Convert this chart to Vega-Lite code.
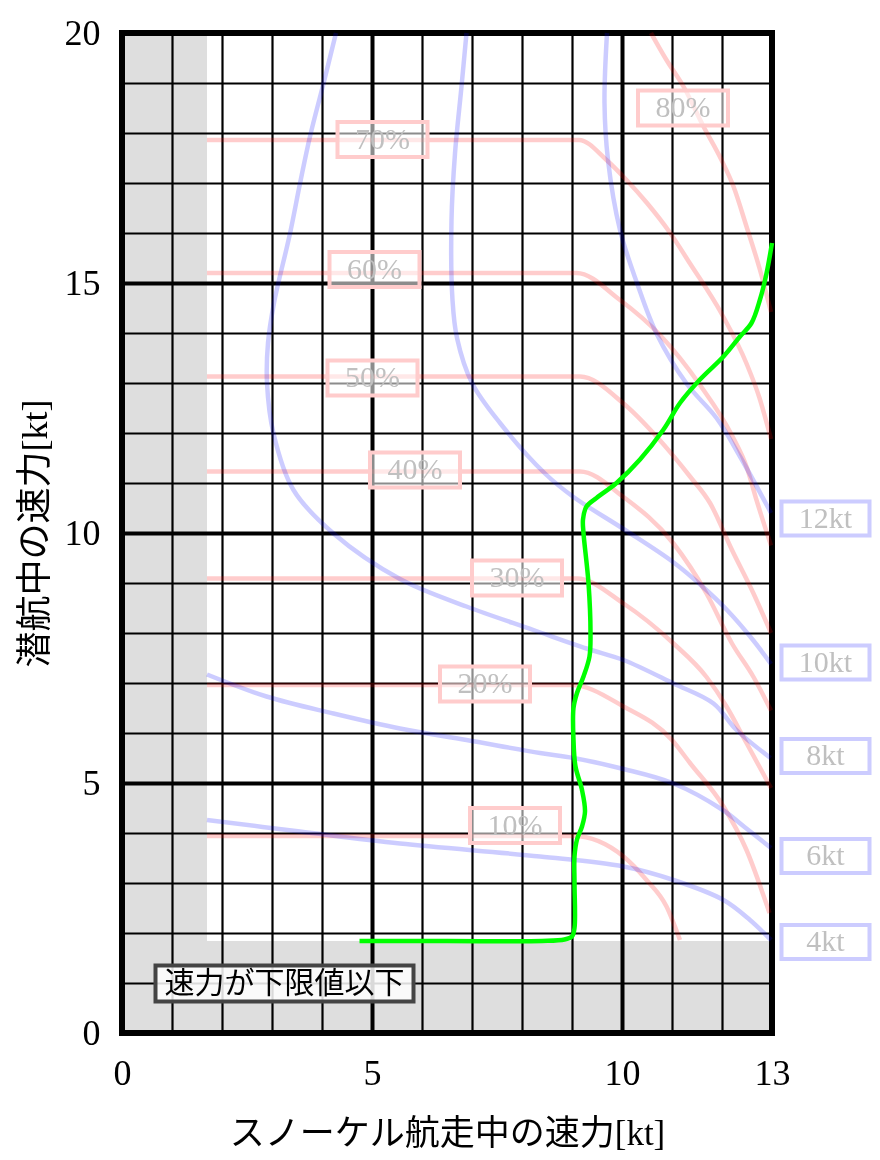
{
  "$schema": "https://vega.github.io/schema/vega-lite/v6.json",
  "width": 650,
  "height": 1000,
  "autosize": {"type": "none"},
  "padding": {"left": 122, "top": 33, "right": 108, "bottom": 127},
  "background": "white",
  "config": {"view": {"stroke": "black", "strokeWidth": 6}},
  "datasets": {
    "regions": [
      {"x": 0, "x2": 1.7, "y": 0, "y2": 20},
      {"x": 1.7, "x2": 13, "y": 0, "y2": 1.84}
    ],
    "pct": [
      {"k": "80%", "x": 10.58, "y": 20}, {"k": "80%", "x": 10.89, "y": 19.46}, {"k": "80%", "x": 11.23, "y": 18.93}, {"k": "80%", "x": 11.63, "y": 18.13}, {"k": "80%", "x": 11.99, "y": 17.46}, {"k": "80%", "x": 12.23, "y": 16.93}, {"k": "80%", "x": 12.49, "y": 16.13}, {"k": "80%", "x": 12.76, "y": 15.26}, {"k": "80%", "x": 12.98, "y": 14.42},
      {"k": "70%", "x": 1.7, "y": 17.86}, {"k": "70%", "x": 9.14, "y": 17.86}, {"k": "70%", "x": 9.69, "y": 17.46}, {"k": "70%", "x": 10.09, "y": 17.06}, {"k": "70%", "x": 10.5, "y": 16.6}, {"k": "70%", "x": 10.95, "y": 16.02}, {"k": "70%", "x": 11.36, "y": 15.39}, {"k": "70%", "x": 11.99, "y": 14.39}, {"k": "70%", "x": 12.49, "y": 13.39}, {"k": "70%", "x": 12.75, "y": 12.7}, {"k": "70%", "x": 12.98, "y": 11.88},
      {"k": "60%", "x": 1.7, "y": 15.2}, {"k": "60%", "x": 9.09, "y": 15.2}, {"k": "60%", "x": 9.96, "y": 14.66}, {"k": "60%", "x": 10.76, "y": 13.96}, {"k": "60%", "x": 11.56, "y": 12.96}, {"k": "60%", "x": 12.2, "y": 11.95}, {"k": "60%", "x": 12.5, "y": 11.3}, {"k": "60%", "x": 12.69, "y": 10.66}, {"k": "60%", "x": 12.98, "y": 9.75},
      {"k": "50%", "x": 1.7, "y": 13.13}, {"k": "50%", "x": 9.16, "y": 13.13}, {"k": "50%", "x": 10.03, "y": 12.59}, {"k": "50%", "x": 10.69, "y": 11.93}, {"k": "50%", "x": 11.36, "y": 11.13}, {"k": "50%", "x": 11.76, "y": 10.6}, {"k": "50%", "x": 12.2, "y": 9.66}, {"k": "50%", "x": 12.63, "y": 8.79}, {"k": "50%", "x": 12.98, "y": 8.0},
      {"k": "40%", "x": 1.7, "y": 11.23}, {"k": "40%", "x": 9.16, "y": 11.23}, {"k": "40%", "x": 10.03, "y": 10.72}, {"k": "40%", "x": 11.03, "y": 9.79}, {"k": "40%", "x": 11.69, "y": 8.79}, {"k": "40%", "x": 12.2, "y": 7.79}, {"k": "40%", "x": 12.63, "y": 7.12}, {"k": "40%", "x": 12.98, "y": 6.45},
      {"k": "30%", "x": 1.7, "y": 9.09}, {"k": "30%", "x": 9.1, "y": 9.09}, {"k": "30%", "x": 10.03, "y": 8.59}, {"k": "30%", "x": 11.03, "y": 7.79}, {"k": "30%", "x": 11.69, "y": 7.12}, {"k": "30%", "x": 12.09, "y": 6.53}, {"k": "30%", "x": 12.49, "y": 5.8}, {"k": "30%", "x": 12.98, "y": 4.9},
      {"k": "20%", "x": 1.7, "y": 6.96}, {"k": "20%", "x": 9.0, "y": 6.96}, {"k": "20%", "x": 10.03, "y": 6.53}, {"k": "20%", "x": 11.0, "y": 5.86}, {"k": "20%", "x": 11.36, "y": 5.4}, {"k": "20%", "x": 12.03, "y": 4.53}, {"k": "20%", "x": 12.49, "y": 3.66}, {"k": "20%", "x": 12.95, "y": 2.4},
      {"k": "10%", "x": 1.7, "y": 3.94}, {"k": "10%", "x": 9.03, "y": 3.94}, {"k": "10%", "x": 10.03, "y": 3.53}, {"k": "10%", "x": 10.49, "y": 3.06}, {"k": "10%", "x": 10.89, "y": 2.53}, {"k": "10%", "x": 11.16, "y": 1.86}
    ],
    "kt": [
      {"k": "12kt", "x": 9.7, "y": 20}, {"k": "12kt", "x": 9.65, "y": 18.6}, {"k": "12kt", "x": 9.72, "y": 17.46}, {"k": "12kt", "x": 9.96, "y": 16.06}, {"k": "12kt", "x": 10.3, "y": 15.0}, {"k": "12kt", "x": 10.69, "y": 13.99}, {"k": "12kt", "x": 11.29, "y": 12.99}, {"k": "12kt", "x": 11.89, "y": 12.3}, {"k": "12kt", "x": 12.36, "y": 11.53}, {"k": "12kt", "x": 12.98, "y": 10.4},
      {"k": "10kt", "x": 6.89, "y": 20}, {"k": "10kt", "x": 6.79, "y": 18.93}, {"k": "10kt", "x": 6.66, "y": 17.59}, {"k": "10kt", "x": 6.59, "y": 16.26}, {"k": "10kt", "x": 6.61, "y": 14.66}, {"k": "10kt", "x": 6.7, "y": 13.9}, {"k": "10kt", "x": 7.0, "y": 13.0}, {"k": "10kt", "x": 7.56, "y": 12.2}, {"k": "10kt", "x": 8.46, "y": 11.19}, {"k": "10kt", "x": 9.03, "y": 10.72}, {"k": "10kt", "x": 10.03, "y": 10.08}, {"k": "10kt", "x": 11.02, "y": 9.42}, {"k": "10kt", "x": 11.62, "y": 8.92}, {"k": "10kt", "x": 12.1, "y": 8.46}, {"k": "10kt", "x": 12.62, "y": 7.86}, {"k": "10kt", "x": 12.98, "y": 7.38},
      {"k": "8kt", "x": 4.28, "y": 20}, {"k": "8kt", "x": 4.03, "y": 18.99}, {"k": "8kt", "x": 3.76, "y": 17.93}, {"k": "8kt", "x": 3.56, "y": 16.99}, {"k": "8kt", "x": 3.36, "y": 15.99}, {"k": "8kt", "x": 3.04, "y": 14.6}, {"k": "8kt", "x": 2.92, "y": 13.8}, {"k": "8kt", "x": 2.9, "y": 13.0}, {"k": "8kt", "x": 3.03, "y": 11.99}, {"k": "8kt", "x": 3.43, "y": 10.86}, {"k": "8kt", "x": 4.23, "y": 9.99}, {"k": "8kt", "x": 5.56, "y": 9.08}, {"k": "8kt", "x": 6.89, "y": 8.53}, {"k": "8kt", "x": 8.23, "y": 8.06}, {"k": "8kt", "x": 9.29, "y": 7.69}, {"k": "8kt", "x": 10.03, "y": 7.46}, {"k": "8kt", "x": 11.03, "y": 6.99}, {"k": "8kt", "x": 11.83, "y": 6.59}, {"k": "8kt", "x": 12.29, "y": 6.06}, {"k": "8kt", "x": 12.97, "y": 5.5},
      {"k": "6kt", "x": 1.7, "y": 7.17}, {"k": "6kt", "x": 2.89, "y": 6.73}, {"k": "6kt", "x": 4.23, "y": 6.39}, {"k": "6kt", "x": 5.56, "y": 6.09}, {"k": "6kt", "x": 6.89, "y": 5.86}, {"k": "6kt", "x": 8.36, "y": 5.6}, {"k": "6kt", "x": 9.03, "y": 5.5}, {"k": "6kt", "x": 10.03, "y": 5.28}, {"k": "6kt", "x": 11.03, "y": 4.99}, {"k": "6kt", "x": 12.0, "y": 4.47}, {"k": "6kt", "x": 12.45, "y": 4.12}, {"k": "6kt", "x": 12.98, "y": 3.7},
      {"k": "4kt", "x": 1.7, "y": 4.26}, {"k": "4kt", "x": 3.56, "y": 4.03}, {"k": "4kt", "x": 5.56, "y": 3.79}, {"k": "4kt", "x": 8.36, "y": 3.53}, {"k": "4kt", "x": 10.03, "y": 3.33}, {"k": "4kt", "x": 11.03, "y": 3.06}, {"k": "4kt", "x": 12.03, "y": 2.66}, {"k": "4kt", "x": 12.56, "y": 2.26}, {"k": "4kt", "x": 12.98, "y": 1.86}
    ],
    "route": [
      {"x": 4.75, "y": 1.84}, {"x": 6.5, "y": 1.84}, {"x": 8.4, "y": 1.84}, {"x": 8.85, "y": 1.87}, {"x": 9.0, "y": 1.93}, {"x": 9.05, "y": 2.1}, {"x": 9.05, "y": 3.0}, {"x": 9.05, "y": 3.53}, {"x": 9.1, "y": 3.87}, {"x": 9.2, "y": 4.13}, {"x": 9.26, "y": 4.43}, {"x": 9.2, "y": 4.86}, {"x": 9.07, "y": 5.33}, {"x": 9.03, "y": 5.86}, {"x": 9.03, "y": 6.5}, {"x": 9.1, "y": 6.8}, {"x": 9.23, "y": 7.13}, {"x": 9.35, "y": 7.53}, {"x": 9.37, "y": 8.0}, {"x": 9.33, "y": 9.0}, {"x": 9.23, "y": 10.0}, {"x": 9.22, "y": 10.27}, {"x": 9.29, "y": 10.53}, {"x": 9.49, "y": 10.7}, {"x": 9.89, "y": 11.0}, {"x": 10.36, "y": 11.47}, {"x": 10.83, "y": 12.07}, {"x": 11.16, "y": 12.6}, {"x": 11.56, "y": 13.07}, {"x": 12.03, "y": 13.53}, {"x": 12.36, "y": 13.93}, {"x": 12.59, "y": 14.2}, {"x": 12.76, "y": 14.67}, {"x": 12.89, "y": 15.19}, {"x": 13.0, "y": 15.8}
    ],
    "pctLabels": [
      {"label": "80%", "x": 11.22, "y": 18.5},
      {"label": "70%", "x": 5.21, "y": 17.87},
      {"label": "60%", "x": 5.05, "y": 15.27},
      {"label": "50%", "x": 5.01, "y": 13.1},
      {"label": "40%", "x": 5.86, "y": 11.26},
      {"label": "30%", "x": 7.9, "y": 9.1},
      {"label": "20%", "x": 7.26, "y": 6.98},
      {"label": "10%", "x": 7.86, "y": 4.15}
    ],
    "ktLabels": [
      {"label": "12kt", "x": 14.07, "y": 10.29},
      {"label": "10kt", "x": 14.07, "y": 7.41},
      {"label": "8kt", "x": 14.07, "y": 5.54},
      {"label": "6kt", "x": 14.07, "y": 3.54},
      {"label": "4kt", "x": 14.07, "y": 1.82}
    ],
    "note": [
      {"label": "速力が下限値以下", "x": 3.25, "y": 0.99}
    ]
  },
  "encoding": {
    "x": {
      "field": "x", "type": "quantitative",
      "scale": {"domain": [0, 13], "nice": false, "zero": false},
      "axis": {
        "title": "スノーケル航走中の速力[kt]",
        "values": [0, 1, 2, 3, 4, 5, 6, 7, 8, 9, 10, 11, 12, 13],
        "grid": true, "gridColor": "black", "gridOpacity": 1,
        "gridWidth": {"condition": {"test": "datum.value % 5 === 0", "value": 4}, "value": 2.2},
        "ticks": false, "domain": false,
        "labelExpr": "datum.value % 5 === 0 || datum.value === 13 ? datum.label : ''",
        "labelFont": "Liberation Serif", "labelFontSize": 36, "labelColor": "black",
        "labelPadding": 23, "labelFlush": false, "labelOverlap": false,
        "titleFont": "'Liberation Serif', 'Noto Sans CJK JP'", "titleFontSize": 35,
        "titleFontWeight": "normal", "titleColor": "black", "titlePadding": 25
      }
    },
    "y": {
      "field": "y", "type": "quantitative",
      "scale": {"domain": [0, 20], "nice": false, "zero": false},
      "axis": {
        "title": "潜航中の速力[kt]",
        "values": [0, 1, 2, 3, 4, 5, 6, 7, 8, 9, 10, 11, 12, 13, 14, 15, 16, 17, 18, 19, 20],
        "grid": true, "gridColor": "black", "gridOpacity": 1,
        "gridWidth": {"condition": {"test": "datum.value % 5 === 0", "value": 4}, "value": 2.2},
        "ticks": false, "domain": false,
        "labelExpr": "datum.value % 5 === 0 ? datum.label : ''",
        "labelFont": "Liberation Serif", "labelFontSize": 36, "labelColor": "black",
        "labelPadding": 22, "labelFlush": false, "labelOverlap": false,
        "titleFont": "'Liberation Serif', 'Noto Sans CJK JP'", "titleFontSize": 36,
        "titleFontWeight": "normal", "titleColor": "black", "titlePadding": 10
      }
    }
  },
  "layer": [
    {
      "data": {"name": "regions"},
      "mark": {"type": "rect", "fill": "#dedede", "blend": "multiply"},
      "encoding": {"x2": {"field": "x2"}, "y2": {"field": "y2"}}
    },
    {
      "data": {"name": "pct"},
      "mark": {"type": "line", "color": "red", "opacity": 0.2, "strokeWidth": 4.5, "interpolate": "monotone"},
      "encoding": {"detail": {"field": "k"}}
    },
    {
      "data": {"name": "kt"},
      "mark": {"type": "line", "color": "blue", "opacity": 0.2, "strokeWidth": 4.5, "interpolate": "catmull-rom"},
      "encoding": {"detail": {"field": "k"}, "order": {"value": null}}
    },
    {
      "data": {"name": "route"},
      "mark": {"type": "line", "color": "#00ff00", "strokeWidth": 4.5, "interpolate": "catmull-rom"},
      "encoding": {"order": {"value": null}}
    },
    {
      "data": {"name": "pctLabels"},
      "mark": {"type": "point", "shape": "M-1,-0.389H1V0.389H-1Z", "size": 8100, "filled": true, "fill": "white", "fillOpacity": 0.55, "stroke": "#ffcccc", "strokeWidth": 4, "opacity": 1}
    },
    {
      "data": {"name": "pctLabels"},
      "mark": {"type": "text", "font": "Liberation Serif", "fontSize": 30, "color": "#c0c0c0", "align": "center", "baseline": "middle"},
      "encoding": {"text": {"field": "label"}}
    },
    {
      "data": {"name": "ktLabels"},
      "mark": {"type": "point", "shape": "M-1,-0.389H1V0.389H-1Z", "size": 7744, "filled": true, "fill": "white", "fillOpacity": 1, "stroke": "#ccccff", "strokeWidth": 4, "opacity": 1}
    },
    {
      "data": {"name": "ktLabels"},
      "mark": {"type": "text", "font": "Liberation Serif", "fontSize": 30, "color": "#c0c0c0", "align": "center", "baseline": "middle"},
      "encoding": {"text": {"field": "label"}}
    },
    {
      "data": {"name": "note"},
      "mark": {"type": "point", "shape": "M-1,-0.1395H1V0.1395H-1Z", "size": 66564, "filled": true, "fill": "white", "fillOpacity": 0.85, "stroke": "#444444", "strokeWidth": 4, "opacity": 1}
    },
    {
      "data": {"name": "note"},
      "mark": {"type": "text", "font": "Noto Sans CJK JP", "fontSize": 30, "color": "black", "align": "center", "baseline": "middle"},
      "encoding": {"text": {"field": "label"}}
    }
  ]
}
